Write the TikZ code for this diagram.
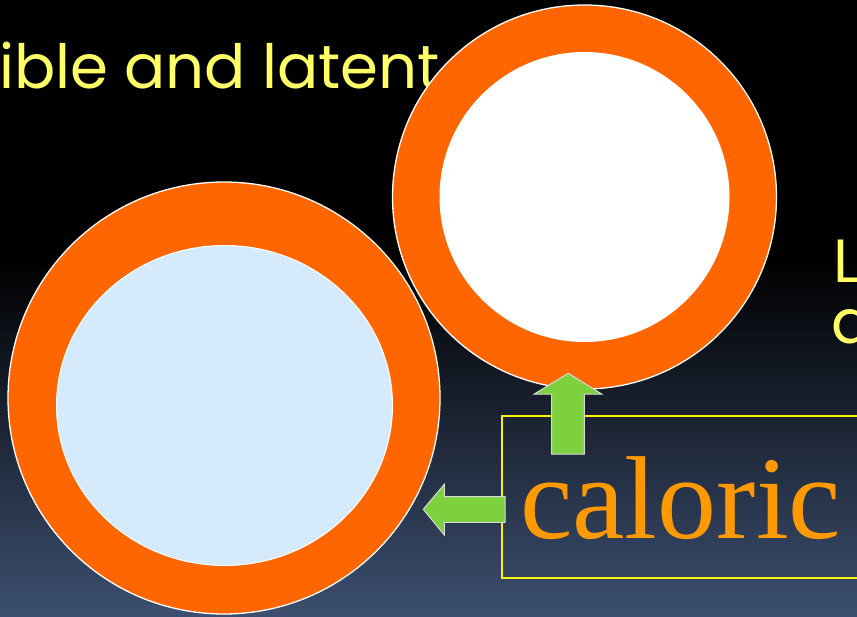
\documentclass[tikz,border=0pt]{standalone}
\usepackage{fontspec}
\setmainfont{Liberation Serif}
\newfontfamily\handfont{Poppins}
\usetikzlibrary{positioning}
\definecolor{ringorange}{HTML}{FF6600}
\definecolor{coreblue}{HTML}{D5EBFC}
\definecolor{arrowgreen}{HTML}{7DD13C}
\definecolor{handyellow}{HTML}{FFFF66}
\definecolor{calorange}{HTML}{FF9900}
\definecolor{slatebottom}{HTML}{3C4F70}
\begin{document}
\begin{tikzpicture}[x=1pt,y=-1pt,
 ring/.style={fill=ringorange,draw=white,line width=1.3pt},
 blockarrow/.style={fill=arrowgreen,draw=white!85!black,line width=1pt,line join=miter},
 handtext/.style={text=handyellow,font=\handfont\fontsize{61}{62}\selectfont,inner sep=0pt}]
 \useasboundingbox(0,0)rectangle(857,616);
 \fill[black](0,0)rectangle(857,616);
 \shade[top color=black,bottom color=slatebottom](0,260)rectangle(857,616);
 % yellow lines of text, cut by the page edges
 \node[handtext,anchor=base west](title)at(-33,88){sible and latent};
 \node[handtext,anchor=base west](sideL)at(833,282){L};
 \node[handtext,anchor=base west](sidea)at(831,343){a};
 % the two rings
 \coordinate(solidc)at(224,398);\coordinate(heatc)at(584.5,197);
 \draw[ring](solidc)circle(216);
 \draw[fill=coreblue,draw=white,line width=1pt](224.5,405.5)ellipse(168 and 160);
 \draw[ring](heatc)circle(192);
 \fill[white](heatc)circle(145);
 % caloric box
 \node[draw=yellow,line width=1.5pt,minimum width=380,minimum height=162,anchor=north west,inner sep=0pt](calbox)at(501,415){};
 \node[text=calorange,font=\fontsize{118}{120}\selectfont,anchor=base west,inner sep=0pt](caltext)at(520,538){caloric};
 % green block arrows
 \coordinate(uptip)at(568.3,373.3);\coordinate(lefttip)at(423.3,509.3);
 \draw[blockarrow](uptip)--++(33.4,20.7)--++(-17.4,0)--++(0,60)--++(-32.6,0)--++(0,-60)--++(-17.4,0)--cycle;
 \draw[blockarrow](lefttip)--++(21,-25)--++(0,12.4)--++(60.7,0)--++(0,25.6)--++(-60.7,0)--++(0,12.7)--cycle;
\end{tikzpicture}
\end{document}
